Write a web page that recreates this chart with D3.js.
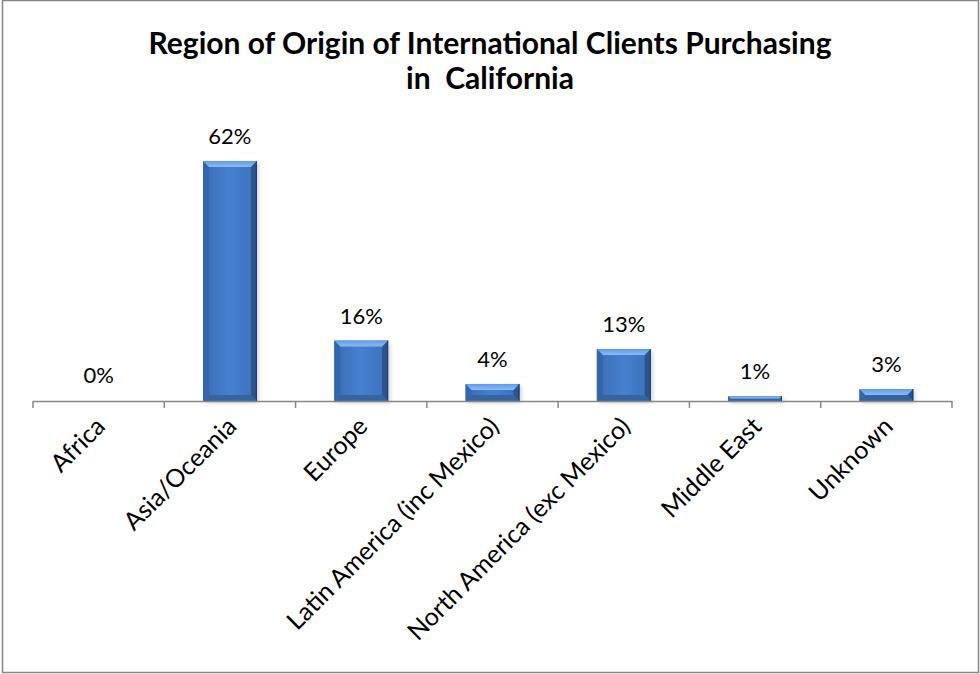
<!DOCTYPE html>
<html>
<head>
<meta charset="utf-8">
<script src="https://cdn.jsdelivr.net/npm/d3@7"></script>
<style>
  body { margin: 0; background: #fff; }
  svg text { font-family: Lato, "Open Sans", sans-serif; fill: #000; }
  .title { font-weight: bold; font-size: 30px; }
  .vlabel { font-size: 22px; }
  .xlabel { font-size: 25px; }
</style>
</head>
<body>
<div id="chart"></div>
<script>
const categories = ['Africa', 'Asia/Oceania', 'Europe', 'Latin America (inc Mexico)',
  'North America (exc Mexico)', 'Middle East', 'Unknown'];
const values = [0.2, 62.0, 15.6, 4.4, 13.4, 1.3, 3.1];
const valueLabels = ['0%', '62%', '16%', '4%', '13%', '1%', '3%'];
const titleLines = ['Region of Origin of International Clients Purchasing', 'in  California'];

const width = 980, height = 674;
const margin = ({top: 130, right: 28, bottom: 273, left: 33});

let svg = d3.select('#chart').append('svg')
  .attr('width', width)
  .attr('height', height);

// outer frame
svg.append('rect')
  .attr('x', 2.5).attr('y', 0.5)
  .attr('width', width - 4).attr('height', height - 2)
  .attr('fill', '#fff')
  .attr('stroke', '#868686')
  .attr('stroke-width', 1.5);

let x = d3.scaleBand()
  .domain(categories)
  .range([margin.left, width - margin.right])
  .padding(0);

let y = d3.scaleLinear()
  .domain([0, 70])
  .range([height - margin.bottom, margin.top]);

const barW = x.bandwidth() * 0.41;

// title
svg.append('g').selectAll('text')
  .data(titleLines)
  .enter().append('text')
  .attr('class', 'title')
  .attr('text-anchor', 'middle')
  .attr('x', 490)
  .attr('y', (d, i) => 54 + i * 35)
  .style('white-space', 'pre')
  .text(d => d);

let defs = svg.append('defs');
let grad = defs.append('linearGradient')
  .attr('id', 'barFill')
  .attr('x1', 0).attr('x2', 1).attr('y1', 0).attr('y2', 0);
grad.append('stop').attr('offset', '0%').attr('stop-color', '#3a6db3');
grad.append('stop').attr('offset', '50%').attr('stop-color', '#4680cf');
grad.append('stop').attr('offset', '100%').attr('stop-color', '#3b70ba');

let topGrad = defs.append('linearGradient')
  .attr('id', 'bevelTop')
  .attr('x1', 0).attr('x2', 0).attr('y1', 0).attr('y2', 1);
topGrad.append('stop').attr('offset', '0%').attr('stop-color', '#5f9be6');
topGrad.append('stop').attr('offset', '100%').attr('stop-color', '#8abcf5');

let shadow = defs.append('filter').attr('id', 'shadow')
  .attr('x', '-20%').attr('y', '-20%').attr('width', '140%').attr('height', '140%');
shadow.append('feGaussianBlur').attr('stdDeviation', 2);

let bars = svg.append('g').selectAll('g.bar')
  .data(values)
  .enter().append('g')
  .attr('class', 'bar')
  .attr('transform', (d, i) => `translate(${x(categories[i]) + (x.bandwidth() - barW) / 2},${y(d)})`);

bars.filter(d => d >= 0.5).each(function(d) {
  let g = d3.select(this);
  let h = y(0) - y(d);
  let b = Math.min(6, h / 2);
  g.append('rect')
    .attr('x', 2).attr('y', 2)
    .attr('width', barW).attr('height', h)
    .attr('fill', '#000').attr('opacity', 0.18)
    .attr('filter', 'url(#shadow)');
  g.append('rect')
    .attr('width', barW).attr('height', h)
    .attr('fill', 'url(#barFill)');
  // left edge
  g.append('path')
    .attr('d', `M0,0 L${b},${b} L${b},${h - b} L0,${h} Z`)
    .attr('fill', '#3466ab');
  // right edge
  g.append('path')
    .attr('d', `M${barW},0 L${barW - b},${b} L${barW - b},${h - b} L${barW},${h} Z`)
    .attr('fill', '#2a548e');
  // bottom edge
  g.append('path')
    .attr('d', `M0,${h} L${b},${h - b} L${barW - b},${h - b} L${barW},${h} Z`)
    .attr('fill', '#36649f');
  // top bevel
  g.append('path')
    .attr('d', `M0,0 L${barW},0 L${barW - b},${b} L${b},${b} Z`)
    .attr('fill', 'url(#bevelTop)');
  // dark outline on right
  g.append('line')
    .attr('x1', barW - 0.5).attr('x2', barW - 0.5)
    .attr('y1', 0).attr('y2', h)
    .attr('stroke', '#1d3b66').attr('stroke-width', 1);
});

// value labels
svg.append('g').selectAll('text')
  .data(values)
  .enter().append('text')
  .attr('class', 'vlabel')
  .attr('text-anchor', 'middle')
  .attr('x', (d, i) => x(categories[i]) + x.bandwidth() / 2)
  .attr('y', d => y(d) - 17)
  .text((d, i) => valueLabels[i]);

// x axis
let xAxis = svg.append('g')
  .attr('transform', `translate(0,${y(0)})`);

xAxis.append('line')
  .attr('x1', margin.left).attr('x2', width - margin.right)
  .attr('y1', 0.5).attr('y2', 0.5)
  .attr('stroke', '#868686').attr('stroke-width', 1.5);

xAxis.selectAll('line.tick')
  .data(categories.concat(['end']))
  .enter().append('line')
  .attr('class', 'tick')
  .attr('x1', (d, i) => i < categories.length ? x(d) : x.range()[1])
  .attr('x2', (d, i) => i < categories.length ? x(d) : x.range()[1])
  .attr('y1', 0).attr('y2', 7)
  .attr('stroke', '#868686').attr('stroke-width', 1.5);

xAxis.selectAll('text')
  .data(categories)
  .enter().append('text')
  .attr('class', 'xlabel')
  .attr('text-anchor', 'end')
  .attr('transform', d => `translate(${x(d) + x.bandwidth() / 2 + 8},${27}) rotate(-45)`)
  .text(d => d);
</script>
</body>
</html>
